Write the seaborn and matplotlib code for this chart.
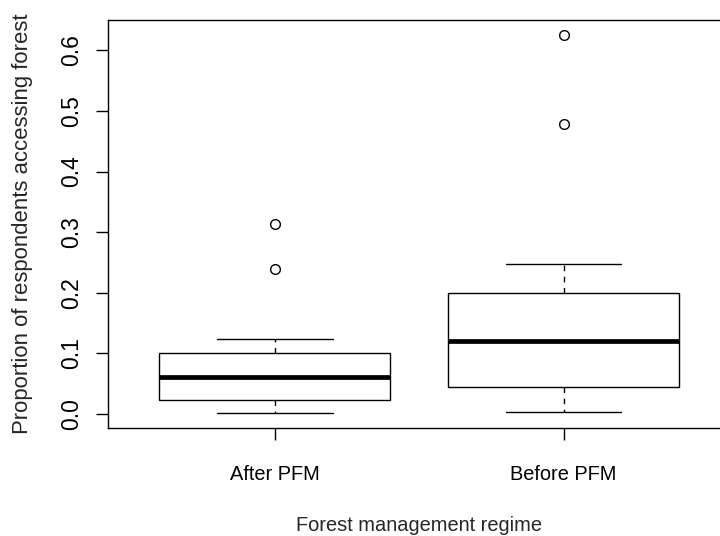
import matplotlib
matplotlib.use("Agg")
import matplotlib.pyplot as plt
import numpy as np
import pandas as pd
import seaborn as sns

# Share of respondents accessing the forest, one value per surveyed site
regimes = ["After PFM", "Before PFM"]
after_pfm = [0.002, 0.010, 0.018, 0.023, 0.035, 0.050, 0.061,
             0.072, 0.090, 0.1005, 0.1235, 0.240, 0.313]
before_pfm = [0.004, 0.015, 0.030, 0.0455, 0.070, 0.100, 0.121,
              0.150, 0.180, 0.199, 0.247, 0.478, 0.625]
y_ticks = [0.0, 0.1, 0.2, 0.3, 0.4, 0.5, 0.6]
y_tick_labels = ["0.0", "0.1", "0.2", "0.3", "0.4", "0.5", "0.6"]

df = pd.DataFrame({
    "regime": [regimes[0]] * len(after_pfm) + [regimes[1]] * len(before_pfm),
    "proportion": after_pfm + before_pfm,
})

sns.set_style("ticks")
plt.rcParams["font.family"] = ["Liberation Sans", "DejaVu Sans"]
plt.rcParams["text.color"] = "black"

W, H = 720, 536
fig = plt.figure(figsize=(W / 100, H / 100), dpi=100)
ax = fig.add_axes([107.5 / W, 108 / H, (731 - 107.5) / W, 408 / H])

sns.boxplot(
    data=df, x="regime", y="proportion", order=regimes, ax=ax,
    color="white", linecolor="black", linewidth=1.0, width=0.8,
    whis=1.5,
    whiskerprops=dict(linestyle=(0, (4, 4))),
    medianprops=dict(linewidth=3.4, solid_capstyle="butt"),
    flierprops=dict(marker="o", markersize=7, markerfacecolor="none",
                    markeredgewidth=1.0),
)

ax.set_xlim(-0.58, 1.58)
ax.set_ylim(-0.0229, 0.6499)
ax.set_yticks(y_ticks)
ax.set_yticklabels(y_tick_labels, rotation=90, va="center", fontsize=16.5)

for side in ["top", "right", "bottom", "left"]:
    ax.spines[side].set_visible(True)
    ax.spines[side].set_color("black")
    ax.spines[side].set_linewidth(1.0)

ax.tick_params(axis="both", direction="out", length=8.6, width=1.0,
               color="black", labelcolor="black")
ax.tick_params(axis="x", pad=18.3, labelsize=14.4)
ax.tick_params(axis="y", pad=8.6)

ax.set_xlabel("Forest management regime", fontsize=14.4, labelpad=23)
ax.set_ylabel("Proportion of respondents accessing forest", fontsize=15.9)
ax.yaxis.set_label_coords((33 - 107.5) / 623.5, 0.5)

fig.savefig("out.png", dpi=100, facecolor="white")
